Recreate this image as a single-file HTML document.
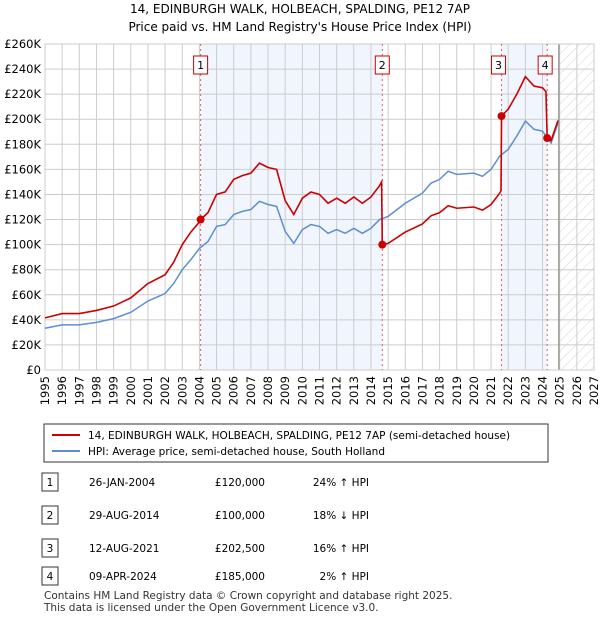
<!DOCTYPE html>
<html><head><meta charset="utf-8"><style>
body{margin:0;background:#fff;font-family:"Liberation Sans","DejaVu Sans",sans-serif;}
svg text{font-family:"DejaVu Sans","Liberation Sans",sans-serif;}
</style></head><body>
<svg id="c" width="600" height="620" xmlns="http://www.w3.org/2000/svg">
<defs><pattern id="h" width="7" height="7" patternUnits="userSpaceOnUse" patternTransform="rotate(45)"><line x1="0" y1="0" x2="0" y2="7" stroke="#ccc" stroke-width="0.8"/></pattern></defs>
<text x="300" y="13" text-anchor="middle" font-size="12">14, EDINBURGH WALK, HOLBEACH, SPALDING, PE12 7AP</text>
<text x="300" y="31" text-anchor="middle" font-size="12">Price paid vs. HM Land Registry's House Price Index (HPI)</text>
<g id="plot"></g>
<g>
<rect x="44" y="424" width="504" height="38" fill="#fff" stroke="#333"/>
<line x1="52" y1="435" x2="80" y2="435" stroke="#cc0000" stroke-width="2"/>
<text x="88" y="439" font-size="10.5">14, EDINBURGH WALK, HOLBEACH, SPALDING, PE12 7AP (semi-detached house)</text>
<line x1="52" y1="451" x2="80" y2="451" stroke="#5b8fd4" stroke-width="2"/>
<text x="88" y="455" font-size="10.5">HPI: Average price, semi-detached house, South Holland</text>
</g>
<g id="tbl" font-size="10.5"></g>
<text x="44" y="599" font-size="10.5" fill="#333">Contains HM Land Registry data © Crown copyright and database right 2025.</text>
<text x="44" y="611" font-size="10.5" fill="#333">This data is licensed under the Open Government Licence v3.0.</text>
</svg>
<script>
const blueDates=[1995,1996,1997,1998,1999,2000,2001,2002,2002.5,2003,2003.5,2004,2004.5,2005,2005.5,2006,2006.5,2007,2007.5,2008,2008.5,2009,2009.5,2010,2010.5,2011,2011.5,2012,2012.5,2013,2013.5,2014,2014.5,2015,2016,2017,2017.5,2018,2018.5,2019,2020,2020.5,2021,2021.5,2022,2022.5,2023,2023.5,2024,2024.5,2024.9];
const blueVals=[33.3,36,36,38,41,46,55,61,69,80,88,97,102.5,114.5,116,124,126.5,128,134.5,132,130.5,110.5,101,112,116,114.5,109,112,109,113,109,113,120,122.5,133,141,149,152,158.5,156,157,154.5,160,170.5,176,186.5,198.5,192,190.5,181,197];
const redDates=[1995,1996,1997,1998,1999,2000,2001,2002,2002.5,2003,2003.5,2004,2004.07,2004.5,2005,2005.5,2006,2006.5,2007,2007.5,2008,2008.5,2009,2009.5,2010,2010.5,2011,2011.5,2012,2012.5,2013,2013.5,2014,2014.5,2014.62,2014.66,2015,2016,2017,2017.5,2018,2018.5,2019,2020,2020.5,2021,2021.5,2021.58,2021.61,2022,2022.5,2023,2023.5,2024,2024.2,2024.27,2024.5,2024.9];
const redVals=[41.6,45,45,47.5,51,57.5,69,76,86,100,110,118,120,125.5,140,142,152,155,157,165,161.5,160,135,124,137,142,140,133,137,133,138,133,138,147,150,100,101,110,116.5,123,125.5,131,129,130,127.5,132,141,143,202.5,208,220,234,226.5,225,222,185,183,199];
const saleNums=["1","2","3","4"];
const saleDates=[2004.07,2014.66,2021.61,2024.27];
const saleVals=[120,100,202.5,185];
const saleText=["26-JAN-2004","29-AUG-2014","12-AUG-2021","09-APR-2024"];
const salePrice=["£120,000","£100,000","£202,500","£185,000"];
const saleHpi=["24% ↑ HPI","18% ↓ HPI","16% ↑ HPI","2% ↑ HPI"];
const yTicks=[0,20,40,60,80,100,120,140,160,180,200,220,240,260];
const xTicks=[1995,1996,1997,1998,1999,2000,2001,2002,2003,2004,2005,2006,2007,2008,2009,2010,2011,2012,2013,2014,2015,2016,2017,2018,2019,2020,2021,2022,2023,2024,2025,2026,2027];
const L=45,R=594,T=44,B=370,x0=1995,x1=2027,yMax=260,dataEnd=2024.95;
const X=d=>L+(d-x0)/(x1-x0)*(R-L);
const Y=v=>B-v/yMax*(B-T);
const NS="http://www.w3.org/2000/svg";
const g=document.getElementById('plot');
function mk(t,a,p){const e=document.createElementNS(NS,t);for(const k in a)e.setAttribute(k,a[k]);(p||g).appendChild(e);return e;}
let e;
e=mk('rect',{x:X(saleDates[0]),y:T,width:X(saleDates[1])-X(saleDates[0]),height:B-T,fill:'#eef3fc',opacity:0.8});


e=mk('rect',{x:X(saleDates[2]),y:T,width:X(saleDates[3])-X(saleDates[2]),height:B-T,fill:'#eef3fc',opacity:0.8});


e=mk('rect',{x:X(dataEnd),y:T,width:R-X(dataEnd),height:B-T,fill:'url(#h)'});


yTicks.forEach(v=>{
 e=mk('line',{x1:L,x2:R,y1:Y(v),y2:Y(v),stroke:'#ccc','stroke-width':1});
 
 
 e=mk('text',{x:L-4,y:Y(v)+4,'text-anchor':'end','font-size':11.5});
 e.textContent=v===0?'£0':'£'+v+'K';
 
 
});
xTicks.forEach(d=>{
 e=mk('line',{x1:X(d),x2:X(d),y1:T,y2:B,stroke:'#ccc','stroke-width':1});
 
 
 e=mk('text',{x:0,y:0,'text-anchor':'end','font-size':11.5,transform:`translate(${X(d)+4},${B+6}) rotate(-90)`});
 e.textContent=d;
 
 
});
e=mk('line',{x1:X(dataEnd),x2:X(dataEnd),y1:T,y2:B,stroke:'#888','stroke-width':1.2});


e=mk('rect',{x:L,y:T,width:R-L,height:B-T,fill:'none',stroke:'#ccc'});


saleDates.forEach((d,i)=>{
 e=mk('line',{x1:X(d),x2:X(d),y1:T,y2:B,stroke:'#e06060','stroke-width':1,'stroke-dasharray':'2,3'});
 
 
});
e=mk('polyline',{points:blueDates.map((d,i)=>X(d)+','+Y(blueVals[i])).join(' '),fill:'none',stroke:'#5b8fd4','stroke-width':1.5});


e=mk('polyline',{points:redDates.map((d,i)=>X(d)+','+Y(redVals[i])).join(' '),fill:'none',stroke:'#cc0000','stroke-width':1.6});


saleDates.forEach((d,i)=>{
 e=mk('circle',{cx:X(d),cy:Y(saleVals[i]),r:4,fill:'#cc0000'});
 
 
 const bx=X(d)-7-(i===0?0:i===1?0:i===2?3:2);
 e=mk('rect',{x:bx,y:56,width:14,height:18,fill:'#fff',stroke:'#cc0000'});
 
 
 e=mk('text',{x:bx+7,y:69,'text-anchor':'middle','font-size':11});
 e.textContent=saleNums[i];
 
 
});
const tb=document.getElementById('tbl');
const rowY=[482,515,548,576];
saleNums.forEach((n,i)=>{
 const y=rowY[i];
 e=mk('rect',{x:42,y:y-9,width:16,height:18,fill:'#fff',stroke:'#333'},tb);
 
 
 e=mk('text',{x:50,y:y+4,'text-anchor':'middle'},tb);e.textContent=n;
 
 
 e=mk('text',{x:89,y:y+4},tb);e.textContent=saleText[i];
 
 
 e=mk('text',{x:265,y:y+4,'text-anchor':'end'},tb);e.textContent=salePrice[i];
 
 
 e=mk('text',{x:369,y:y+4,'text-anchor':'end'},tb);e.textContent=saleHpi[i];
 
 
});
</script>
</body></html>
